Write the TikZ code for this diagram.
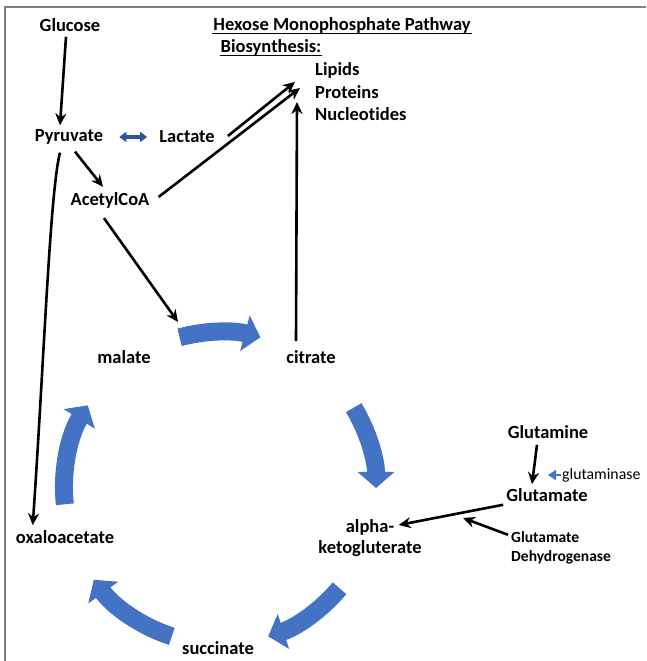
\documentclass[tikz,border=0pt]{standalone}
\usepackage{fontspec}
\setmainfont[Ligatures=NoCommon,RawFeature=-liga]{Carlito}
\usetikzlibrary{arrows.meta,calc}
\definecolor{tcablue}{RGB}{68,114,196}
\definecolor{navyblue}{RGB}{47,84,150}
\definecolor{framegray}{RGB}{128,128,128}
\begin{document}
\begin{tikzpicture}[x=1pt,y=1pt,
  lbl/.style={font=\fontsize{18.5}{21.5}\selectfont\bfseries, inner sep=1pt},
  small/.style={font=\fontsize{15.5}{18.5}\selectfont\bfseries, inner sep=1pt, align=left},
  conn/.style={line width=2.6pt, -{Stealth[length=12pt,width=11pt]}},
  uline/.style={line width=1.6pt},
  tca/.style={line width=18pt, tcablue, -{Triangle[width=36pt,length=16pt]}}]
\useasboundingbox (0,0) rectangle (646,661);
\draw[framegray, line width=1.5pt] (5,0) -- (5,654) -- (646,654);

% labels
\node[lbl] (glucose) at (70,636) {Glucose};
\node[lbl] (title) at (342,636) {Hexose Monophosphate Pathway};
\node[lbl] (bio) at (271,614) {Biosynthesis:};
\draw[uline] ([yshift=-3.5pt]title.base west) -- ([yshift=-3.5pt]title.base east);
\draw[uline] ([yshift=-3.5pt]bio.base west) -- ([yshift=-3.5pt]bio.base east);
\node[lbl, anchor=west] (lipids) at (314,591) {Lipids};
\node[lbl, anchor=west] (proteins) at (314,569) {Proteins};
\node[lbl, anchor=west] (nucleo) at (314,547) {Nucleotides};
\node[lbl] (pyruvate) at (69,524) {Pyruvate};
\node[lbl] (lactate) at (187,524) {Lactate};
\node[lbl] (acetyl) at (110,461) {AcetylCoA};
\node[lbl] (malate) at (124,304) {malate};
\node[lbl] (citrate) at (311,304) {citrate};
\node[lbl] (glutamine) at (548,229) {Glutamine};
\node[lbl] (glutamate) at (547,166) {Glutamate};
\node[font=\fontsize{15.8}{18.5}\selectfont, anchor=west, inner sep=1pt] (glutaminase) at (561,186) {glutaminase};
\node[lbl, align=center] (akg) at (370,123) {alpha-\\ketogluterate};
\node[small, anchor=west] (gdh) at (510,113) {Glutamate\\Dehydrogenase};
\node[lbl] (oxalo) at (65,124) {oxaloacetate};
\node[lbl] (succinate) at (218,13) {succinate};

% TCA cycle block arrows
\coordinate (C) at (220,173);
\foreach \a/\b in {105/75, 31/0, -40/-72, -108/-144, 186/148}{
  \draw[tca] ($(C)+(\a:156)$) arc[start angle=\a, end angle=\b, radius=156];
}

% connectors
\draw[conn] ([xshift=-4pt,yshift=-4pt]glucose.south) -- ([xshift=-9pt,yshift=3pt]pyruvate.north);
\draw[navyblue, line width=3.5pt, {Triangle[length=7pt,width=10pt]}-{Triangle[length=7pt,width=10pt]}] ([xshift=15pt]pyruvate.east) -- ([xshift=-11pt]lactate.west);
\draw[conn] ([xshift=6pt,yshift=-6pt]pyruvate.south) -- ([xshift=-7pt,yshift=4pt]acetyl.north);
\draw[conn] ([xshift=-9pt,yshift=-7pt]pyruvate.south) .. controls (50,470) and (44,300) .. ([xshift=18pt,yshift=4pt]oxalo.north west);
\draw[conn] ([xshift=12pt,yshift=1pt]lactate.east) -- ([xshift=-19pt,yshift=10pt]proteins.west);
\draw[conn] ([xshift=8pt,yshift=3pt]acetyl.east) -- ([xshift=-14pt,yshift=4pt]proteins.west);
\draw[conn] ([xshift=-6pt,yshift=-9pt]acetyl.south) -- (178,339);
\draw[conn] ([xshift=-15pt,yshift=8pt]citrate.north) -- ([xshift=-17pt,yshift=12pt]nucleo.west);
\draw[conn] ([xshift=-11pt,yshift=-5pt]glutamine.south) -- ([xshift=-15pt,yshift=3pt]glutamate.north);
\draw[conn] ([xshift=-2pt,yshift=-2pt]glutamate.south west) -- ([xshift=-24pt,yshift=-7pt]akg.north east);
\draw[conn] ([xshift=-2pt,yshift=-4pt]gdh.north west) -- (463,143);
\draw[tcablue, line width=1.5pt, -{Triangle[length=8pt,width=10pt]}] (glutaminase.west) -- ++(-13,0);
\end{tikzpicture}
\end{document}
